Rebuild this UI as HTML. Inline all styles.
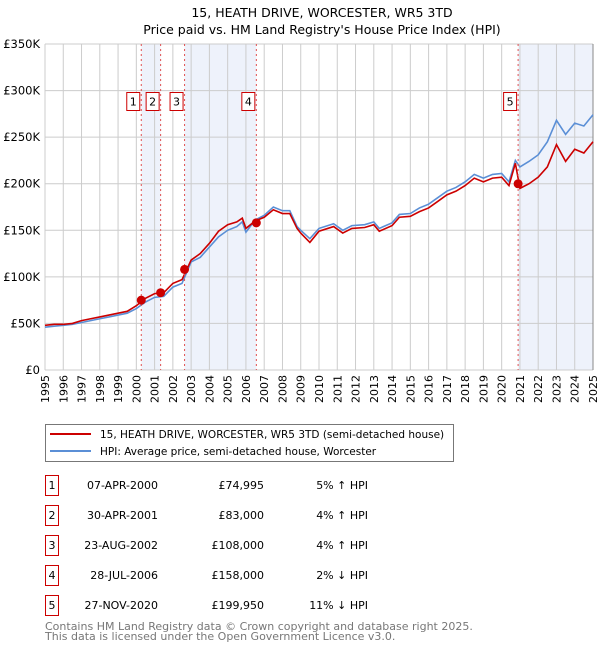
<!DOCTYPE html>
<html><head><meta charset="utf-8"><style>
body{margin:0;background:#fff;width:600px;height:650px;overflow:hidden;font-family:"DejaVu Sans","Liberation Sans",sans-serif}
svg text{font-family:"DejaVu Sans","Liberation Sans",sans-serif}
</style></head><body>
<svg id="chart" width="600" height="650" xmlns="http://www.w3.org/2000/svg">
<text x="322" y="17" text-anchor="middle" font-size="12.5" fill="#000">15, HEATH DRIVE, WORCESTER, WR5 3TD</text>
<text x="322" y="34" text-anchor="middle" font-size="12.5" fill="#000">Price paid vs. HM Land Registry's House Price Index (HPI)</text>
<g id="bands"></g><g id="grid"></g><g id="axes"></g><g id="lines"></g><g id="marks"></g>
<g>
<rect x="45.5" y="424.5" width="408" height="37" fill="#fff" stroke="#777"/>
<line x1="50" y1="434" x2="91" y2="434" stroke="#cc0000" stroke-width="2"/>
<text x="100" y="438" font-size="10.5">15, HEATH DRIVE, WORCESTER, WR5 3TD (semi-detached house)</text>
<line x1="50" y1="451" x2="91" y2="451" stroke="#5b8fd6" stroke-width="2"/>
<text x="100" y="455" font-size="10.5">HPI: Average price, semi-detached house, Worcester</text>
</g>
<g id="table" font-size="11"></g>
<text x="45" y="630" font-size="11" fill="#777">Contains HM Land Registry data © Crown copyright and database right 2025.</text>
<text x="45" y="640" font-size="11" fill="#777">This data is licensed under the Open Government Licence v3.0.</text>
</svg>
<script>
const dates=[1995,1995.5,1996,1996.5,1997,1997.5,1998,1998.5,1999,1999.5,2000,2000.5,2001,2001.5,2002,2002.5,2003,2003.5,2004,2004.5,2005,2005.5,2005.8,2006,2006.5,2007,2007.5,2008,2008.4,2008.8,2009,2009.5,2010,2010.8,2011.3,2011.8,2012.5,2013,2013.3,2014,2014.4,2015,2015.5,2016,2016.5,2017,2017.5,2018,2018.5,2019,2019.5,2020,2020.4,2020.75,2021,2021.5,2022,2022.5,2023,2023.5,2024,2024.5,2025];
const hpiValues=[46,47,48,49,51,53,55,57,59,61,66,73,78,79,89,93,116,121,132,143,150,154,159,148,161,166,175,171,171,154,150,141,152,157,150,155,156,159,152,158,167,168,174,178,185,192,196,202,210,206,210,211,202,225,218,224,231,245,268,253,265,262,274];
const priceValues=[48,49,49,50,53,55,57,59,61,63,69,77,82,83,93,97,118,125,136,149,156,159,163,152,160,164,172,168,168,152,147,137,149,154,147,152,153,156,149,155,164,165,170,174,181,188,192,198,206,202,206,207,198,222,195,200,207,218,242,224,237,233,245];
const saleDates=[2000.27,2001.33,2002.64,2006.57,2020.9];
const salePrices=[74995,83000,108000,158000,199950];
const saleLabels=["1","2","3","4","5"];
const saleDateText=["07-APR-2000","30-APR-2001","23-AUG-2002","28-JUL-2006","27-NOV-2020"];
const salePriceText=["£74,995","£83,000","£108,000","£158,000","£199,950"];
const saleHpiText=["5% ↑ HPI","4% ↑ HPI","4% ↑ HPI","2% ↓ HPI","11% ↓ HPI"];
const yTicks=[0,50,100,150,200,250,300,350];
const yTickLabels=["£0","£50K","£100K","£150K","£200K","£250K","£300K","£350K"];
const xYears=[1995,1996,1997,1998,1999,2000,2001,2002,2003,2004,2005,2006,2007,2008,2009,2010,2011,2012,2013,2014,2015,2016,2017,2018,2019,2020,2021,2022,2023,2024,2025];

const NS="http://www.w3.org/2000/svg";
const X0=45,X1=593,Y0=370,Y1=44;
const xs=d=>X0+(d-1995)/30*(X1-X0);
const ys=v=>Y0-v/350*(Y0-Y1);
function mk(tag,attrs,parent){const e=document.createElementNS(NS,tag);for(const k in attrs)e.setAttribute(k,attrs[k]);parent.appendChild(e);return e;}
const bands=document.getElementById('bands'),grid=document.getElementById('grid'),axes=document.getElementById('axes'),lines=document.getElementById('lines'),marks=document.getElementById('marks'),table=document.getElementById('table');

const bandPairs=[[saleDates[0],saleDates[1]],[saleDates[2],saleDates[3]],[saleDates[4],2025]];
bandPairs.forEach((p,i)=>{
 const r=mk('rect',{x:xs(p[0]),y:Y1,width:xs(p[1])-xs(p[0]),height:Y0-Y1,fill:'#eef2fb'},bands);
 
 
});
xYears.forEach(y=>{
 const l=mk('line',{x1:xs(y),x2:xs(y),y1:Y1,y2:Y0,stroke:'#cccccc','stroke-width':1},grid);
 
 
 const t=mk('text',{x:0,y:0,'font-size':11,'text-anchor':'end',transform:`translate(${xs(y)+4},${Y0+5}) rotate(-90)`},axes);
 t.textContent=y;
 
 
});
yTicks.forEach((v,i)=>{
 const l=mk('line',{x1:X0,x2:X1,y1:ys(v),y2:ys(v),stroke:'#cccccc','stroke-width':1},grid);
 
 
 const t=mk('text',{x:40,y:ys(v)+4,'font-size':11.5,'text-anchor':'end'},axes);
 t.textContent=yTickLabels[i];
 
 
});
const hp=mk('polyline',{points:dates.map((d,i)=>xs(d)+','+ys(hpiValues[i])).join(' '),fill:'none',stroke:'#5b8fd6','stroke-width':1.6},lines);


const pp=mk('polyline',{points:dates.map((d,i)=>xs(d)+','+ys(priceValues[i])).join(' '),fill:'none',stroke:'#cc0000','stroke-width':1.6},lines);


saleDates.forEach((d,i)=>{
 const l=mk('line',{x1:xs(d),x2:xs(d),y1:Y1,y2:Y0,stroke:'#e05050','stroke-width':1,'stroke-dasharray':'2,3'},marks);
 
 
 const c=mk('circle',{cx:xs(d),cy:ys(salePrices[i]/1000),r:4.5,fill:'#cc0000'},marks);
 
 
 const bx=xs(d)-15;
 const r=mk('rect',{x:bx+0.5,y:92.5,width:13,height:18,fill:'#fff',stroke:'#cc0000'},marks);
 
 
 const t=mk('text',{x:bx+7,y:105.5,'font-size':11,'text-anchor':'middle'},marks);
 t.textContent=saleLabels[i];
 
 
 const ry=475+i*30;
 const tb=mk('rect',{x:45.5,y:ry+0.5,width:13,height:20,fill:'#fff',stroke:'#cc0000'},table);
 
 
 const tn=mk('text',{x:52,y:ry+14,'text-anchor':'middle'},table);
 tn.textContent=saleLabels[i];
 
 
 const td=mk('text',{x:158,y:ry+14,'text-anchor':'end'},table);
 td.textContent=saleDateText[i];
 
 
 const tp=mk('text',{x:264,y:ry+14,'text-anchor':'end'},table);
 tp.textContent=salePriceText[i];
 
 
 const th=mk('text',{x:368,y:ry+14,'text-anchor':'end'},table);
 th.textContent=saleHpiText[i];
 
 
});
mk('line',{x1:X1,x2:X1,y1:Y1,y2:Y0,stroke:'#888','stroke-width':1},axes);
</script>
</body></html>
